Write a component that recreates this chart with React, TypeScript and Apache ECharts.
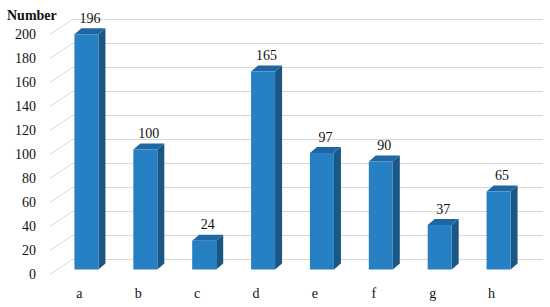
import React, { useEffect, useRef } from "react";
import * as echarts from "echarts";

const categories = ["a", "b", "c", "d", "e", "f", "g", "h"];
const values = [196, 100, 24, 165, 97, 90, 37, 65];
const yMin = 0;
const yMax = 200;
const yInterval = 20;
const yTicks = [0, 20, 40, 60, 80, 100, 120, 140, 160, 180, 200];
const yTitle = "Number";

const FONT = "'Liberation Serif', 'Times New Roman', serif";

export default function App() {
  const ref = useRef<HTMLDivElement>(null);
  useEffect(() => {
    if (!ref.current) return;
    const chart = echarts.init(ref.current, undefined, { renderer: "svg" });
    const fx = -15;
    const fy = 10;
    const half = 12;
    const dx = 7;
    const dy = -6;
    chart.setOption({
      animation: false,
      backgroundColor: "#ffffff",
      grid: [
        { left: 72, right: 7, top: 19.5, bottom: 47.5 },
        { left: 50, right: 29, top: 34.5, bottom: 32.5 },
      ],
      xAxis: [
        {
          type: "category",
          gridIndex: 0,
          data: categories,
          boundaryGap: true,
          axisLine: { show: false },
          axisTick: { show: false },
          axisLabel: { show: false },
        },
        {
          type: "category",
          gridIndex: 1,
          data: categories,
          boundaryGap: true,
          axisLine: { show: false },
          axisTick: { show: false },
          axisLabel: { show: true, margin: 12, fontFamily: FONT, fontSize: 14, color: "#111" },
        },
      ],
      yAxis: [
        {
          type: "value",
          gridIndex: 0,
          min: yMin,
          max: yMax,
          interval: yInterval,
          axisLine: { show: false },
          axisTick: { show: false },
          axisLabel: { show: false },
          splitLine: { show: true, lineStyle: { color: "#d9d9d9", width: 1 } },
        },
        {
          type: "value",
          gridIndex: 1,
          min: yMin,
          max: yMax,
          interval: yInterval,
          axisLine: { show: false },
          axisTick: { show: false },
          splitLine: { show: false },
          axisLabel: { show: true, margin: 14, fontFamily: FONT, fontSize: 14, color: "#111" },
        },
      ],
      graphic: [
        {
          type: "text",
          left: 7,
          top: 8,
          style: {
            text: yTitle,
            fontFamily: FONT,
            fontSize: 14,
            fontWeight: "bold",
            fill: "#111",
          },
        },
      ],
      series: [
        {
          type: "custom",
          xAxisIndex: 0,
          yAxisIndex: 0,
          clip: false,
          silent: true,
          data: yTicks.map((t) => [0, t]),
          renderItem: (params: any, api: any) => {
            const p = api.coord([0, api.value(1)]);
            const x0 = params.coordSys.x;
            return {
              type: "line",
              shape: { x1: x0, y1: p[1], x2: x0 - 22, y2: p[1] + 15 },
              style: { stroke: "#d9d9d9", lineWidth: 1 },
            };
          },
        },
        {
          type: "custom",
          xAxisIndex: 0,
          yAxisIndex: 0,
          clip: false,
          data: values.map((v, i) => [i, v]),
          renderItem: (params: any, api: any) => {
            const i = api.value(0);
            const v = api.value(1);
            const base = api.coord([i, 0]);
            const top = api.coord([i, v]);
            const xl = base[0] + fx - half;
            const xr = base[0] + fx + half;
            const yb = base[1] + fy;
            const yt = top[1] + fy;
            return {
              type: "group",
              children: [
                {
                  type: "polygon",
                  shape: { points: [[xr, yt], [xr + dx, yt + dy], [xr + dx, yb + dy], [xr, yb]] },
                  style: { fill: "#1a5784" },
                },
                {
                  type: "polygon",
                  shape: { points: [[xl, yt], [xl + dx, yt + dy], [xr + dx, yt + dy], [xr, yt]] },
                  style: { fill: "#1f66a3" },
                },
                {
                  type: "rect",
                  shape: { x: xl, y: yt, width: xr - xl, height: yb - yt },
                  style: { fill: "#2880c4" },
                },
                {
                  type: "text",
                  style: {
                    x: (xl + xr + dx) / 2,
                    y: yt + dy - 3,
                    text: String(v),
                    align: "center",
                    verticalAlign: "bottom",
                    fontFamily: FONT,
                    fontSize: 14,
                    fill: "#111",
                  },
                },
              ],
            };
          },
        },
      ],
    });
    return () => chart.dispose();
  }, []);
  return (
    <div
      ref={ref}
      style={{ position: "fixed", left: 0, top: 0, width: 550, height: 307 }}
    />
  );
}
